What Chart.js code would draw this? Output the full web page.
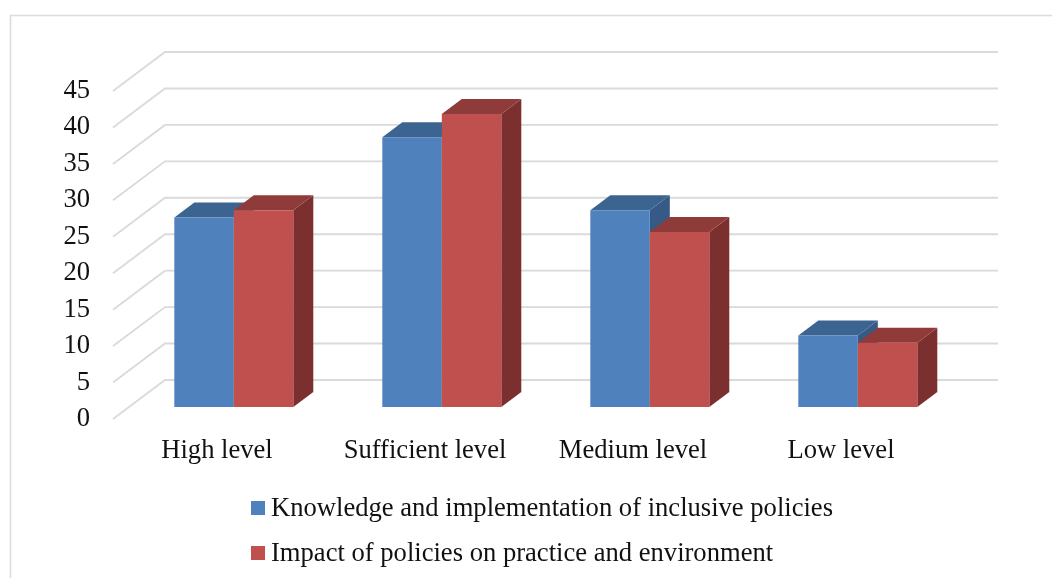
<!DOCTYPE html>
<html>
<head>
<meta charset="utf-8">
<style>
  html, body { margin: 0; padding: 0; background: #fff; }
  #wrap { width: 1052px; height: 578px; position: relative; overflow: hidden; }
</style>
<script src="https://cdn.jsdelivr.net/npm/chart.js@4"></script>
</head>
<body>
<div id="wrap"><canvas id="chart" width="1052" height="578"></canvas></div>
<script>
const categories = ['High level', 'Sufficient level', 'Medium level', 'Low level'];
const knowledgeValues = [26, 37, 27, 9.8];
const impactValues = [27, 40.2, 24, 8.8];
const seriesNames = [
  'Knowledge and implementation of inclusive policies',
  'Impact of policies on practice and environment'
];
const yTicks = [0, 5, 10, 15, 20, 25, 30, 35, 40, 45];

const FONT = '"Liberation Serif", "Times New Roman", serif';
const FONT_SIZE = 26.6;
const TEXT = '#111111';
const GRID = '#dadada';

// Pseudo-3D projection: wall depth behind the axis plane, bar depth and bar offset
const WALL = { dx: 52, dy: -39 };
const BAR = { dx: 20, dy: -15, shiftX: 16.8, shiftY: -12 };

const palette = [
  { front: '#4f81bd', top: '#3c6491', side: '#345a85' },
  { front: '#c0504d', top: '#8f3b39', side: '#7b302f' }
];

function poly(ctx, pts, fill) {
  ctx.beginPath();
  pts.forEach((p, i) => i ? ctx.lineTo(p[0], p[1]) : ctx.moveTo(p[0], p[1]));
  ctx.closePath();
  ctx.fillStyle = fill;
  ctx.fill();
}

const frame3d = {
  id: 'frame3d',
  // Outer chart frame, open on the right and bottom edges
  beforeDraw(chart) {
    const { ctx } = chart;
    ctx.save();
    ctx.strokeStyle = '#dcdcdc';
    ctx.lineWidth = 1.6;
    ctx.beginPath();
    ctx.moveTo(10.5, 578);
    ctx.lineTo(10.5, 15.5);
    ctx.lineTo(1052, 15.5);
    ctx.stroke();

    // Back wall gridlines with their slanted floor-to-wall runs
    const y = chart.scales.y;
    const { left, right } = chart.chartArea;
    ctx.strokeStyle = GRID;
    ctx.lineWidth = 1.9;
    yTicks.forEach(v => {
      const py = y.getPixelForValue(v);
      ctx.beginPath();
      ctx.moveTo(left, py);
      ctx.lineTo(left + WALL.dx, py + WALL.dy);
      ctx.lineTo(right + WALL.dx + 1, py + WALL.dy);
      ctx.stroke();
    });
    ctx.restore();
  },
  // Bars are painted series by series: side and top faces, then the front face
  beforeDatasetsDraw(chart) {
    const { ctx } = chart;
    ctx.save();
    ctx.translate(BAR.shiftX, BAR.shiftY);
    chart.data.datasets.forEach((ds, i) => {
      const colors = palette[i];
      chart.getDatasetMeta(i).data.forEach(bar => {
        const { x, y, base, width } = bar.getProps(['x', 'y', 'base', 'width'], true);
        const l = x - width / 2, r = x + width / 2;
        poly(ctx, [[r, y], [r + BAR.dx, y + BAR.dy], [r + BAR.dx, base + BAR.dy], [r, base]], colors.side);
        poly(ctx, [[l, y], [l + BAR.dx, y + BAR.dy], [r + BAR.dx, y + BAR.dy], [r, y]], colors.top);
        bar.draw(ctx);
      });
    });
    ctx.restore();
    return false;
  },
  // Legend column, left aligned on a shared edge
  afterDraw(chart) {
    const { ctx } = chart;
    ctx.save();
    ctx.font = FONT_SIZE + 'px ' + FONT;
    ctx.textBaseline = 'middle';
    ctx.textAlign = 'left';
    const rowY = [508, 553];
    chart.data.datasets.forEach((ds, i) => {
      ctx.fillStyle = palette[i].front;
      ctx.fillRect(251, rowY[i] - 7, 14, 14);
      ctx.fillStyle = TEXT;
      ctx.fillText(ds.label, 271, rowY[i] + 1);
    });
    ctx.restore();
  }
};

new Chart(document.getElementById('chart'), {
  type: 'bar',
  data: {
    labels: categories,
    datasets: [
      { label: seriesNames[0], data: knowledgeValues, backgroundColor: palette[0].front, borderWidth: 0 },
      { label: seriesNames[1], data: impactValues, backgroundColor: palette[1].front, borderWidth: 0 }
    ]
  },
  plugins: [frame3d],
  options: {
    responsive: false,
    animation: false,
    layout: { padding: { left: 0, right: 107, top: 91, bottom: 0 } },
    plugins: { legend: { display: false }, tooltip: { enabled: false } },
    datasets: { bar: { categoryPercentage: 0.572, barPercentage: 1 } },
    scales: {
      x: {
        grid: { display: false },
        border: { display: false },
        ticks: { color: TEXT, font: { family: FONT, size: FONT_SIZE }, padding: 8, maxRotation: 0 },
        afterFit(s) { s.height = 159; }
      },
      y: {
        min: 0,
        max: 45,
        grid: { display: false },
        border: { display: false },
        afterBuildTicks(s) { s.ticks = yTicks.map(value => ({ value })); },
        ticks: { color: TEXT, font: { family: FONT, size: FONT_SIZE }, padding: 15 },
        afterFit(s) { s.width = 113; }
      }
    }
  }
});
</script>
</body>
</html>
